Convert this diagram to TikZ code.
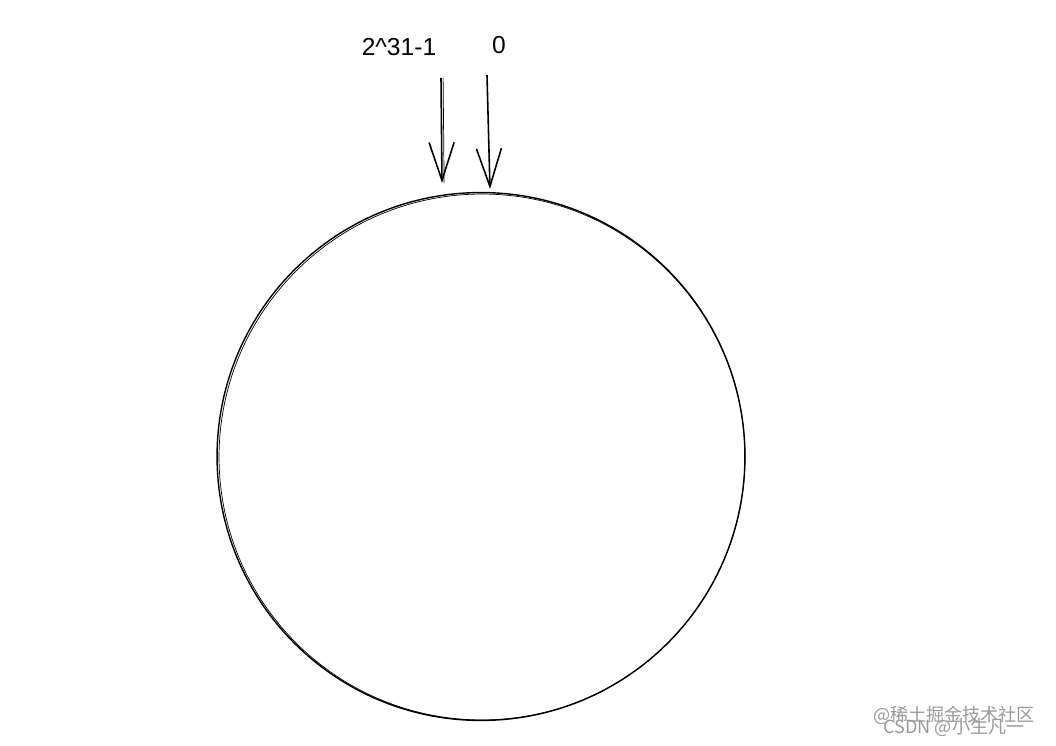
\documentclass[tikz,border=0pt]{standalone}
\usepackage{fontspec}
\setmainfont{Liberation Sans}
\newfontfamily\cjk{Noto Sans CJK SC}
\usetikzlibrary{arrows.meta}

\begin{document}
\begin{tikzpicture}[x=0.02cm, y=0.02cm]
    \tikzset{pointer/.style={black, line width=0.9pt, -{Straight Barb[length=0.76cm,width=0.5cm]}},
             ring/.style={black, line width=0.8pt},
             mark label/.style={inner sep=0pt, font=\fontsize{14}{16}\selectfont},
             wm/.style={inner sep=0pt, text=black!40, font=\cjk\fontsize{10.3}{12}\selectfont}}
    \useasboundingbox (0,0) rectangle (1056,-746);
    % the hash ring
    \draw [ring] (481,-456.5) circle (5.28cm);
    \draw [ring, line width=0.4pt] (482,-457) circle (5.26cm);
    % labels and arrows
    \node [mark label] (max) at (399,-47) {2\^{}31-1};
    \node [mark label] (zero) at (499,-45) {0};
    \coordinate (maxtop) at (441,-78);
    \coordinate (maxend) at (442,-183);
    \coordinate (zerotop) at (487,-75);
    \coordinate (zeroend) at (490,-189);
    \draw [pointer] (maxtop) -- (maxend);
    \draw [black, line width=0.4pt] ([xshift=1.2pt]maxtop) -- ([xshift=1.2pt]maxend);
    \draw [pointer] (zerotop) -- (zeroend);
    % watermark
    \node [wm] (wmtop) at (954,-715) {@稀土掘金技术社区};
    \node [wm] (wmbot) at (954,-727) {CSDN @小生凡一};
\end{tikzpicture}
\end{document}
